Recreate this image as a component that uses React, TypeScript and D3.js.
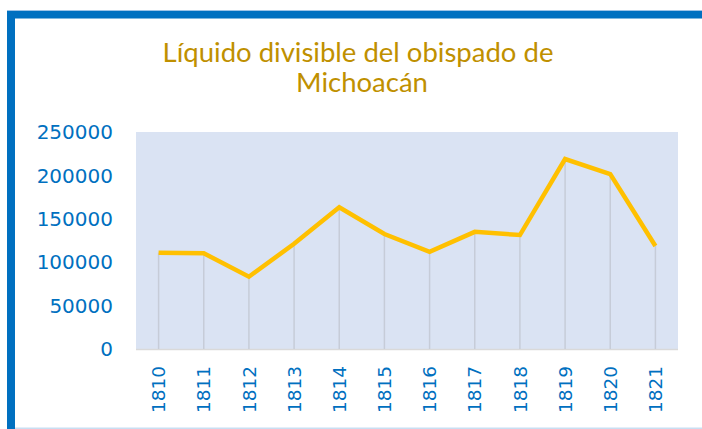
import React from "react";
import * as d3 from "d3";

const years = ["1810","1811","1812","1813","1814","1815","1816","1817","1818","1819","1820","1821"];
const values = [111000, 110300, 83300, 121200, 163200, 132500, 112000, 135000, 131300, 218900, 201600, 118700];
const yTicks = [0, 50000, 100000, 150000, 200000, 250000];
const titleLines = ["Líquido divisible del obispado de", "Michoacán"];

export default function App() {
  const W = 702, H = 429;
  const plot = { left: 136, right: 678, top: 132, bottom: 349 };
  const x = d3.scaleBand<string>().domain(years).range([plot.left, plot.right]);
  const y = d3.scaleLinear().domain([0, 250000]).range([plot.bottom, plot.top]);
  const cx = (d: string) => (x(d) as number) + x.bandwidth() / 2;
  const line = d3.line<number>().x((_, i) => cx(years[i])).y((v) => y(v));
  const blue = "#0070C0";
  const font = "'DejaVu Sans', sans-serif";

  return (
    <svg width={W} height={H} style={{ position: "absolute", left: 0, top: 0, background: "#fff" }}>
      {/* frame */}
      <rect x={7} y={10} width={W - 7} height={1} fill="#9DC3E6" />
      <rect x={7} y={11} width={W - 7} height={7.5} fill={blue} />
      <rect x={7} y={11} width={8} height={H - 11} fill={blue} />
      <rect x={15} y={427.5} width={W - 15} height={1.5} fill="#C9DEF2" />

      {/* title */}
      <text x={358} y={61.5} textAnchor="middle" fill="#BF9000" fontFamily="Lato, sans-serif" fontSize={27.5}>{titleLines[0]}</text>
      <text x={362} y={92} textAnchor="middle" fill="#BF9000" fontFamily="Lato, sans-serif" fontSize={27.5}>{titleLines[1]}</text>

      {/* plot area */}
      <rect x={plot.left} y={plot.top} width={plot.right - plot.left} height={plot.bottom - plot.top} fill="#DAE3F3" />
      <line x1={plot.left} x2={plot.right} y1={plot.bottom + 0.5} y2={plot.bottom + 0.5} stroke="#D9D9D9" strokeWidth={1.5} />

      {/* drop lines */}
      {values.map((v, i) => (
        <line key={i} x1={cx(years[i])} x2={cx(years[i])} y1={y(v)} y2={plot.bottom} stroke="#C6CCD8" strokeWidth={1.5} />
      ))}

      {/* series line */}
      <path d={line(values) || ""} fill="none" stroke="#FFC000" strokeWidth={4.5} strokeLinejoin="miter" />

      {/* y axis labels */}
      {yTicks.map((t) => (
        <text key={t} x={113} y={y(t)} dy="0.36em" textAnchor="end" fill={blue} fontFamily={font} fontSize={20}>{t}</text>
      ))}

      {/* x axis labels */}
      {years.map((yr) => (
        <text key={yr} transform={`translate(${cx(yr)},${366}) rotate(-90)`} dy="0.36em" textAnchor="end" fill={blue} fontFamily={font} fontSize={18.5}>{yr}</text>
      ))}
    </svg>
  );
}
